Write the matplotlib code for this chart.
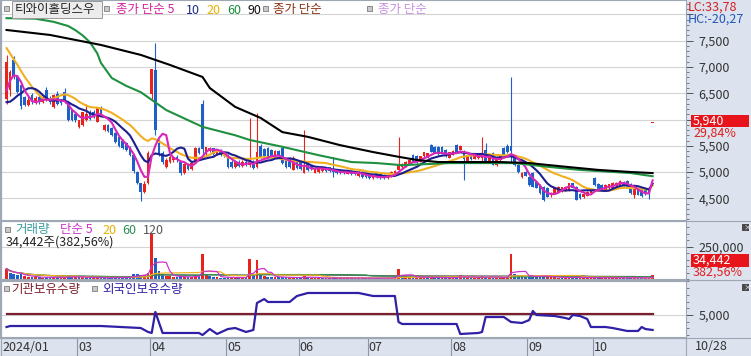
"""HTS-style daily chart: price + moving averages, volume, institution/foreign holdings."""

import matplotlib

matplotlib.use("Agg")
import matplotlib.pyplot as plt
import numpy as np
import pandas as pd
from matplotlib.lines import Line2D
from matplotlib.patches import Rectangle
from matplotlib.ticker import FixedLocator, FuncFormatter, MultipleLocator

plt.rcParams["font.family"] = ["Noto Sans CJK KR", "DejaVu Sans"]

# ---------------- data ----------------
opens = [
    6400, 6560, 7130, 6810, 6650, 6430, 6280, 6460, 6330, 6420,
    6340, 6560, 6400, 6240, 6480, 6350, 6520, 6330, 6180, 6100,
    5860, 5900, 6000, 6150, 6150, 5960, 6220, 5800, 5900, 5840,
    5740, 5660, 5600, 5550, 5480, 5320, 5000, 4790, 4620, 4800,
    6480, 6950, 5550, 5360, 5100, 5200, 5220, 5290, 5190, 4990,
    5150, 5050, 5200, 5450, 6300, 5350, 5400, 5450, 5340, 5420,
    5380, 5320, 5200, 5100, 5200, 5110, 5200, 5130, 5200, 5100,
    5500, 5440, 5460, 5420, 5270, 5400, 5460, 5230, 5260, 5040,
    5190, 5190, 4990, 5170, 5120, 4990, 5000, 5010, 5070, 5090,
    5060, 5050, 5040, 5030, 4970, 5020, 5010, 4920, 5000, 4980,
    4950, 4880, 4990, 4970, 4950, 4880, 4920, 4950, 5030, 5100,
    5100, 5150, 5330, 5300, 5200, 5300, 5280, 5520, 5480, 5480,
    5470, 5420, 5270, 5330, 5520, 5420, 5390, 5200, 5320, 5250,
    5260, 5270, 5420, 5200, 5360, 5130, 5220, 5460, 5500, 5500,
    5300, 5130, 4910, 5000, 4900, 4980, 4810, 4750, 4710, 4700,
    4560, 4600, 4620, 4620, 4650, 4650, 4790, 4720, 4590, 4520,
    4550, 4600, 4880, 4780, 4760, 4660, 4690, 4700, 4740, 4740,
    4800, 4830, 4780, 4560, 4690, 4680, 4660, 4670, 5940,
]
highs = [
    7230, 6950, 7200, 6850, 6680, 6450, 6420, 6500, 6440, 6460,
    6450, 6620, 6450, 6480, 6550, 6400, 6600, 6360, 6200, 6150,
    6000, 6150, 6300, 6180, 6180, 6230, 6250, 5920, 5920, 5860,
    5760, 5700, 5620, 5580, 5500, 5350, 5010, 4800, 4820, 5400,
    6960, 7450, 5620, 5400, 5260, 5320, 5310, 5330, 5200, 5180,
    5180, 5200, 5480, 5480, 6380, 5480, 5470, 5460, 5440, 5430,
    5400, 5340, 5220, 5210, 5230, 5220, 5230, 6030, 5220, 6120,
    5540, 5460, 5480, 5440, 5420, 5420, 5480, 5250, 5280, 5310,
    5210, 5200, 5800, 5190, 5140, 5100, 5090, 5090, 5080, 5100,
    5290, 5060, 5050, 5040, 5030, 5030, 5020, 5010, 5010, 4990,
    4960, 4950, 5000, 4980, 4960, 4950, 5010, 5030, 5670, 5170,
    5210, 5240, 5350, 5320, 5310, 5390, 5370, 5540, 5500, 5500,
    5490, 5440, 5390, 5410, 5540, 5510, 5420, 5330, 5340, 5340,
    5340, 5670, 5550, 5300, 5380, 5300, 5320, 5480, 5530, 6810,
    5320, 5150, 5000, 5020, 4920, 5000, 4830, 4770, 4730, 4720,
    4620, 4710, 4730, 4720, 4730, 4800, 4800, 4730, 4600, 4600,
    4630, 4690, 4900, 4800, 4780, 4770, 4780, 4810, 4810, 4840,
    4820, 4850, 4790, 4700, 4700, 4690, 4670, 4680, 5940,
]
lows = [
    6300, 6450, 6780, 6500, 6200, 6250, 6260, 6300, 6300, 6300,
    6320, 6350, 6300, 6220, 6280, 6280, 6320, 5980, 5970, 5950,
    5840, 5880, 5980, 6000, 6020, 5950, 6080, 5780, 5760, 5680,
    5560, 5480, 5440, 5400, 5300, 4990, 4770, 4440, 4600, 4780,
    6400, 5700, 5300, 5150, 5080, 5180, 5200, 5200, 4950, 4970,
    5030, 5040, 5190, 5350, 5350, 5330, 5380, 5330, 5320, 5310,
    5280, 5080, 5080, 5080, 5100, 5100, 5120, 5100, 5060, 5080,
    5260, 5280, 5270, 5250, 5260, 5280, 5150, 5080, 5080, 5030,
    5060, 5030, 4980, 5020, 5030, 4980, 4990, 5000, 5000, 5000,
    4900, 4970, 4970, 4960, 4960, 4950, 4950, 4910, 4890, 4880,
    4860, 4870, 4890, 4870, 4860, 4870, 4910, 4940, 5020, 5050,
    5090, 5140, 5190, 5180, 5190, 5290, 5270, 5380, 5360, 5330,
    5340, 5290, 5260, 5320, 5360, 5410, 4850, 5190, 5230, 5240,
    5250, 5200, 5190, 5190, 5130, 5120, 5210, 5320, 5360, 5180,
    5120, 4990, 4880, 4920, 4740, 4710, 4690, 4590, 4440, 4520,
    4520, 4590, 4610, 4610, 4640, 4640, 4690, 4460, 4490, 4510,
    4540, 4590, 4740, 4650, 4650, 4650, 4680, 4690, 4730, 4730,
    4740, 4710, 4590, 4500, 4560, 4530, 4570, 4480, 5940,
]
closes = [
    7100, 6900, 6810, 6520, 6250, 6280, 6380, 6330, 6410, 6340,
    6420, 6380, 6330, 6460, 6300, 6320, 6340, 6000, 5990, 6000,
    5990, 6140, 6100, 6010, 6050, 6220, 6100, 5900, 5780, 5700,
    5570, 5500, 5460, 5420, 5320, 5020, 4800, 4610, 4780, 5360,
    6960, 5800, 5330, 5190, 5230, 5290, 5290, 5220, 4990, 5150,
    5050, 5170, 5450, 5370, 5440, 5470, 5450, 5350, 5420, 5330,
    5300, 5100, 5100, 5190, 5120, 5200, 5150, 5200, 5080, 5380,
    5280, 5300, 5290, 5270, 5400, 5300, 5170, 5100, 5100, 5260,
    5080, 5050, 5100, 5040, 5050, 5080, 5080, 5070, 5010, 5020,
    5000, 4990, 4990, 4980, 5010, 4970, 4960, 5000, 4910, 4900,
    4880, 4940, 4910, 4890, 4880, 4930, 5000, 5020, 5160, 5150,
    5200, 5230, 5200, 5200, 5300, 5380, 5360, 5390, 5370, 5340,
    5350, 5300, 5380, 5400, 5370, 5500, 5250, 5320, 5240, 5330,
    5330, 5330, 5200, 5290, 5140, 5290, 5310, 5330, 5380, 5400,
    5130, 5000, 4990, 4930, 4750, 4720, 4700, 4600, 4470, 4530,
    4600, 4700, 4720, 4710, 4720, 4790, 4700, 4470, 4500, 4590,
    4620, 4680, 4750, 4660, 4660, 4760, 4770, 4800, 4800, 4830,
    4750, 4720, 4600, 4690, 4570, 4540, 4580, 4575, 5940,
]
# closes before the visible window (only used to seed the short moving averages)
pre_closes = [9000, 8900, 8700, 8600, 8500, 8300, 8200, 8000, 7900, 7800,
              6800, 6300, 5900, 5800, 5700, 6000, 6300, 6600, 6800]

volumes = [
    80000, 45000, 38000, 30000, 35000, 20000, 15000, 18000, 12000, 14000,
    10000, 16000, 12000, 14000, 11000, 9000, 13000, 25000, 18000, 12000,
    15000, 14000, 12000, 10000, 9000, 13000, 8000, 10000, 9000, 11000,
    14000, 12000, 10000, 12000, 15000, 40000, 35000, 30000, 28000, 45000,
    350000, 165000, 60000, 35000, 25000, 20000, 15000, 18000, 22000, 15000,
    12000, 13000, 30000, 20000, 195000, 40000, 25000, 15000, 12000, 10000,
    11000, 18000, 12000, 10000, 9000, 11000, 12000, 155000, 30000, 150000,
    45000, 25000, 18000, 15000, 14000, 12000, 16000, 12000, 10000, 12000,
    9000, 10000, 25000, 12000, 9000, 8000, 9000, 7000, 8000, 7000,
    12000, 8000, 7000, 6000, 7000, 6000, 7000, 8000, 7000, 6000,
    7000, 8000, 6000, 7000, 6000, 9000, 10000, 15000, 78000, 30000,
    20000, 15000, 12000, 14000, 16000, 12000, 15000, 12000, 10000, 10000,
    9000, 12000, 10000, 11000, 13000, 30000, 13000, 15000, 10000, 12000,
    11000, 20000, 18000, 12000, 14000, 12000, 10000, 12000, 11000, 190000,
    40000, 30000, 20000, 15000, 22000, 25000, 18000, 20000, 25000, 18000,
    14000, 12000, 11000, 10000, 13000, 12000, 18000, 12000, 10000, 9000,
    10000, 14000, 11000, 9000, 10000, 9000, 8000, 9000, 10000, 8000,
    9000, 12000, 10000, 9000, 8000, 9000, 7000, 9003, 34442,
]

# 60 / 90 day price averages (need history before the window), sampled by day index
ma60_idx = [0, 8, 13, 17, 19, 21, 23, 25, 26, 29, 33, 37, 44, 54, 63, 67, 76, 86,
            95, 102, 109, 122, 136, 140, 149, 158, 172, 178]
ma60_val = [7930, 7920, 7860, 7780, 7700, 7600, 7470, 7260, 7080, 6790, 6640, 6520,
            6180, 5860, 5700, 5610, 5480, 5320, 5190, 5170, 5130, 5170, 5170, 5170,
            5100, 5040, 4980, 4920]
ma90_idx = [0, 12, 26, 37, 45, 54, 56, 63, 67, 70, 76, 83, 92, 101, 108, 113, 119,
            136, 144, 154, 163, 172, 178]
ma90_val = [7705, 7610, 7420, 7230, 7040, 6810, 6600, 6240, 6120, 6030, 5760, 5670,
            5510, 5380, 5290, 5230, 5190, 5190, 5170, 5100, 5040, 5000, 4980]

# holdings (기관 / 외국인), by day index
inst_idx = [0, 178]
inst_val = [5150, 5150]
frgn_idx = [0, 1, 26, 37, 39, 40, 41, 43, 53, 54, 56, 58, 61, 63, 66, 68, 69, 71, 72,
            78, 80, 83, 97, 101, 107, 108, 109, 124, 125, 130, 131, 132, 137, 139,
            142, 144, 145, 146, 151, 154, 155, 156, 158, 160, 161, 165, 167, 171,
            174, 175, 176, 178]
frgn_val = [3210, 3360, 3360, 3060, 2470, 2320, 5450, 2320, 2320, 2020, 2910, 2170,
            2910, 3060, 2470, 2770, 6790, 7380, 6940, 6940, 7830, 8280, 8280, 7830,
            7830, 3960, 3660, 3660, 2170, 2320, 2470, 4700, 4700, 3960, 3810, 4250,
            5600, 5000, 4850, 4550, 4400, 5000, 4850, 4400, 3210, 3210, 3060, 2620,
            2620, 3210, 2910, 2770]

month_labels = ["2024/01", "03", "04", "05", "06", "07", "08", "09", "10"]
month_start = [0, 20, 40, 61, 81, 100, 123, 144, 162]
last_date = "10/28"

# ---------------- styling ----------------
W, H = 751, 356
RED, BLUE = "#e8231e", "#1f5fc8"
BG = "#dce3ee"
GRID = "#d4d4d4"
SEP = "#9ea7b3"
X0, X1 = -1.52, 187.2  # index range across the plot width
FS = 9


def fx(x):
    return x / W


def fy(y):
    return 1 - y / H


def ptext(x, y, s, color, size=FS, **kw):
    fig.text(fx(x), fy(y), s, color=color, fontsize=size, va="center", ha="left", **kw)


def psquare(x, y, size=5):
    fig.patches.append(Rectangle((fx(x), fy(y + size)), size / W, size / H,
                                 transform=fig.transFigure, facecolor="#c9c9c9",
                                 edgecolor="#8a8a8a", lw=0.7))


def prect(x0, y0, x1, y1, color, edge="none"):
    fig.patches.append(Rectangle((fx(x0), fy(y1)), (x1 - x0) / W, (y1 - y0) / H,
                                 transform=fig.transFigure, facecolor=color,
                                 edgecolor=edge, lw=0.7))


def panel(top, bottom):
    a = fig.add_axes([fx(1), fy(bottom), fx(686 - 1), (bottom - top) / H])
    a.set_facecolor("white")
    a.set_xlim(X0, X1)
    a.set_xticks([])
    for s in a.spines.values():
        s.set_color(SEP)
        s.set_linewidth(0.8)
    a.spines["left"].set_linewidth(1.6)
    a.yaxis.tick_right()
    a.tick_params(axis="y", which="major", direction="out", length=5, width=0.7,
                  color="#555555", pad=4, labelsize=FS, labelcolor="#333333")
    a.tick_params(axis="y", which="minor", direction="out", length=2.5, width=0.6,
                  color="#666666")
    a.grid(axis="y", color=GRID, lw=0.8)
    a.set_axisbelow(True)
    return a


fig = plt.figure(figsize=(W / 100, H / 100), dpi=100, facecolor=BG)

o = np.array(opens, float)
h = np.array(highs, float)
l = np.array(lows, float)
c = np.array(closes, float)
v = np.array(volumes, float)
idx = np.arange(len(c))

# ---- price panel ----
ax = panel(0, 220)
ax.set_ylim(4086, 8276)
ax.yaxis.set_major_locator(FixedLocator(np.arange(4500, 8001, 500)))
ax.yaxis.set_minor_locator(MultipleLocator(100))
# 8,000 sits under the LC/HC text and 6,000 under the current-price box
ax.yaxis.set_major_formatter(
    FuncFormatter(lambda val, p: "" if val > 7900 or val == 6000 else f"{val:,.0f}"))

cols = np.where(c >= o, RED, BLUE)
ax.vlines(idx, l, h, colors=cols, lw=0.8, zorder=2)
ax.bar(idx, np.maximum(np.abs(c - o), 20), bottom=np.minimum(o, c), width=0.74,
       color=cols, lw=0, zorder=2)

full_c = pd.Series(pre_closes + closes, dtype=float)
npre = len(pre_closes)
for n, col in [(20, "#f0b020"), (10, "#1c1f8e"), (5, "#d926b8")]:
    ma = full_c.rolling(n, min_periods=1).mean().iloc[npre:].to_numpy()
    ax.plot(idx, ma, color=col, lw=1.5, zorder=3)
ax.plot(ma60_idx, ma60_val, color="#1f9040", lw=1.5, zorder=3)
ax.plot(ma90_idx, ma90_val, color="black", lw=1.5, zorder=3)

# ---- volume panel ----
axv = panel(221, 279)
axv.set_ylim(0, 447500)
axv.yaxis.set_major_locator(FixedLocator([250000]))
axv.yaxis.set_minor_locator(MultipleLocator(50000))
axv.yaxis.set_major_formatter(FuncFormatter(lambda val, p: f"{val:,.0f}"))
prev_c = np.concatenate([[pre_closes[-1]], c[:-1]])
vcols = np.where(c >= prev_c, RED, BLUE)
axv.bar(idx, v, width=0.75, color=vcols, lw=0, zorder=2)
vs = pd.Series(v)
for n, col in [(120, "#707070"), (60, "#2e8b57"), (20, "#f0b020"), (5, "#cc33cc")]:
    axv.plot(idx, vs.rolling(n, min_periods=1).mean(), color=col, lw=0.9, zorder=3)

# ---- holdings panel ----
axh = panel(281, 337)
axh.set_ylim(1722, 10066)
axh.yaxis.set_major_locator(FixedLocator([5000]))
axh.yaxis.set_minor_locator(MultipleLocator(1000))
axh.yaxis.set_major_formatter(FuncFormatter(lambda val, p: f"{val:,.0f}"))
axh.plot(inst_idx, inst_val, color="#7b1f2e", lw=1.6, zorder=3)
axh.plot(frgn_idx, frgn_val, color="#2f20a6", lw=1.6, zorder=3)

# ---- date strip ----
axd = fig.add_axes([fx(1), 0, fx(686 - 1), 18 / H])
axd.set_facecolor(BG)
axd.set_xlim(X0, X1)
axd.set_ylim(0, 1)
axd.set_xticks([])
axd.set_yticks([])
for s in axd.spines.values():
    s.set_color(SEP)
    s.set_linewidth(0.8)
for lab, i in zip(month_labels, month_start):
    if i == 0:
        axd.text(X0 + 0.4, 0.45, lab, fontsize=FS, color="#333333", va="center")
    else:
        axd.axvline(i - 0.5, color="#8a96a8", lw=0.8)
        axd.text(i - 0.2, 0.45, lab, fontsize=FS, color="#333333", va="center")
ptext(695, 346, last_date, "#333333")

# ---- separators across the full width ----
for y in (220.5, 280, 337.5):
    fig.lines.append(Line2D([0, 1], [fy(y), fy(y)], transform=fig.transFigure,
                            color=SEP, lw=0.8))

# ---- legends ----
psquare(4, 6)
prect(12, 1, 102, 18, "#ececec", edge="#9a9a9a")
ptext(15, 10, "티와이홀딩스우", "#222222")
psquare(104, 6)
ptext(116, 10, "종가 단순 5", "#d4209a")
ptext(186, 10, "10", "#1c2a8c")
ptext(206, 10, "20", "#e8b000")
ptext(227, 10, "60", "#1a8c3c")
ptext(247, 10, "90", "#111111")
psquare(263, 6)
ptext(273, 10, "종가 단순", "#8a3010")
psquare(367, 6)
ptext(378, 10, "종가 단순", "#c590e0")

psquare(5, 227)
ptext(15, 230, "거래량", "#3a9c9c")
ptext(60, 230, "단순 5", "#cc33cc")
ptext(102, 230, "20", "#e8b000")
ptext(122, 230, "60", "#2e8b57")
ptext(143, 230, "120", "#555555")
ptext(6, 242, "34,442주(382,56%)", "#222222")

psquare(4, 286)
ptext(11, 290, "기관보유수량", "#7b1f2e")
psquare(92, 286)
ptext(102, 290, "외국인보유수량", "#2f20a6")

# ---- right-side annotations ----
ptext(688, 7, "LC:33,78", "#d42020")
ptext(688, 19, "HC:-20,27", "#2256bb")
prect(691, 115, 749, 127, "#e8141c")
ptext(693, 121, f"{closes[-1]:,}", "white")
ptext(693, 133, "29,84%", "#e02020")
prect(691, 254, 749, 267, "#e8141c")
ptext(693, 260.5, f"{volumes[-1]:,}", "white")
ptext(693, 272, "382,56%", "#e02020")
for y in (224, 284):
    prect(742, y, 749, y + 7, "#4a4a4a")
    ptext(743.2, y + 3.3, "×", "white", size=5.5)

fig.savefig("out.png", dpi=100, facecolor=BG)
